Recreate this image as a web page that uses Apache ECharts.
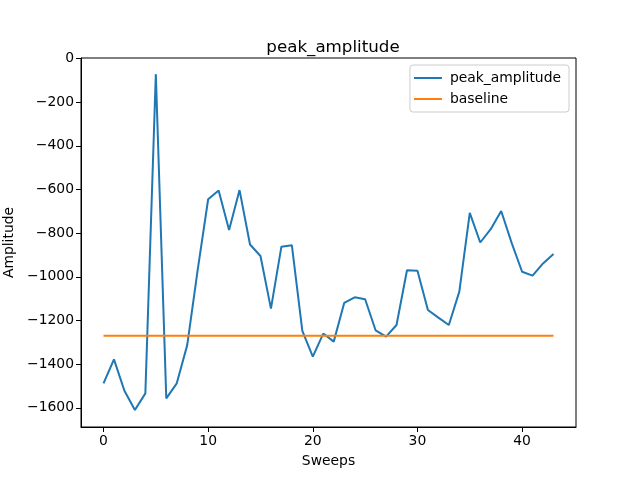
<!DOCTYPE html>
<html>
<head>
<meta charset="utf-8">
<script src="https://cdn.jsdelivr.net/npm/echarts@6/dist/echarts.min.js"></script>
<style>
  html, body { margin: 0; padding: 0; background: #fff; }
  #chart { width: 640px; height: 480px; }
</style>
</head>
<body>
<div id="chart"></div>
<script>
// sweep index (x) and peak amplitude per sweep
const sweeps = [0, 1, 2, 3, 4, 5, 6, 7, 8, 9, 10, 11, 12, 13, 14, 15, 16, 17, 18, 19, 20, 21,
  22, 23, 24, 25, 26, 27, 28, 29, 30, 31, 32, 33, 34, 35, 36, 37, 38, 39, 40, 41, 42, 43]
const peakAmplitude = [-1488, -1378, -1522, -1610, -1534, -72, -1557, -1488, -1313, -968,
  -645, -605, -786, -603, -852, -905, -1146, -862, -856, -1248,
  -1366, -1260, -1297, -1120, -1094, -1103, -1245, -1274, -1221, -970,
  -972, -1152, -1187, -1221, -1068, -707, -843, -782, -699, -845,
  -977, -995, -939, -896]
const baseline = -1270
const xTicks = [0, 10, 20, 30, 40]
const yTicks = [-1600, -1400, -1200, -1000, -800, -600, -400, -200, 0]

const font = 'DejaVu Sans'
const chart = echarts.init(document.getElementById('chart'))

const option = {
  backgroundColor: '#fff',
  animation: false,
  title: {
    text: 'peak_amplitude',
    left: 328, top: 34,
    textAlign: 'center',
    textStyle: { fontFamily: font, fontSize: 16.7, fontWeight: 'normal', color: '#000' }
  },
  legend: {
    orient: 'vertical',
    right: 71, top: 65,
    padding: [6, 8, 6, 4],
    itemWidth: 28, itemHeight: 2, itemGap: 7,
    icon: 'rect',
    borderColor: '#ccc', borderWidth: 1, borderRadius: 3,
    backgroundColor: 'rgba(255,255,255,0.8)',
    textStyle: { fontFamily: font, fontSize: 13.9, color: '#000', padding: [0, 0, 0, 3] },
    data: ['peak_amplitude', 'baseline']
  },
  grid: {
    left: 81, right: 64, top: 58, bottom: 53,
    outerBoundsMode: 'none',
    show: true, borderColor: '#000', borderWidth: 1
  },
  xAxis: {
    type: 'value',
    min: -2.15, max: 45.15,
    name: 'Sweeps', nameLocation: 'middle', nameGap: 27,
    nameTextStyle: { fontFamily: font, fontSize: 13.9, color: '#000' },
    axisLine: { show: true, onZero: false, lineStyle: { color: '#000' } },
    axisTick: { show: true, length: 5, lineStyle: { color: '#000' }, customValues: xTicks },
    axisLabel: { fontFamily: font, fontSize: 13.9, color: '#000', margin: 7, customValues: xTicks },
    splitLine: { show: false }
  },
  yAxis: {
    type: 'value',
    min: -1688, max: 2,
    name: 'Amplitude', nameLocation: 'middle', nameGap: 63, nameRotate: 90,
    nameTextStyle: { fontFamily: font, fontSize: 13.9, color: '#000' },
    axisLine: { show: true, onZero: false, lineStyle: { color: '#000' } },
    axisTick: { show: true, length: 5, lineStyle: { color: '#000' }, customValues: yTicks },
    axisLabel: {
      fontFamily: font, fontSize: 13.9, color: '#000', margin: 7, customValues: yTicks,
      formatter: v => String(v).replace('-', '\u2212')
    },
    splitLine: { show: false }
  },
  series: [
    {
      name: 'peak_amplitude',
      type: 'line',
      data: sweeps.map((x, i) => [x, peakAmplitude[i]]),
      showSymbol: false,
      color: '#1f77b4',
      lineStyle: { width: 2, color: '#1f77b4' },
      z: 2
    },
    {
      name: 'baseline',
      type: 'line',
      data: sweeps.map(x => [x, baseline]),
      showSymbol: false,
      color: '#ff7f0e',
      lineStyle: { width: 2, color: '#ff7f0e' },
      z: 3
    }
  ]
}
chart.setOption(option)
</script>
</body>
</html>
